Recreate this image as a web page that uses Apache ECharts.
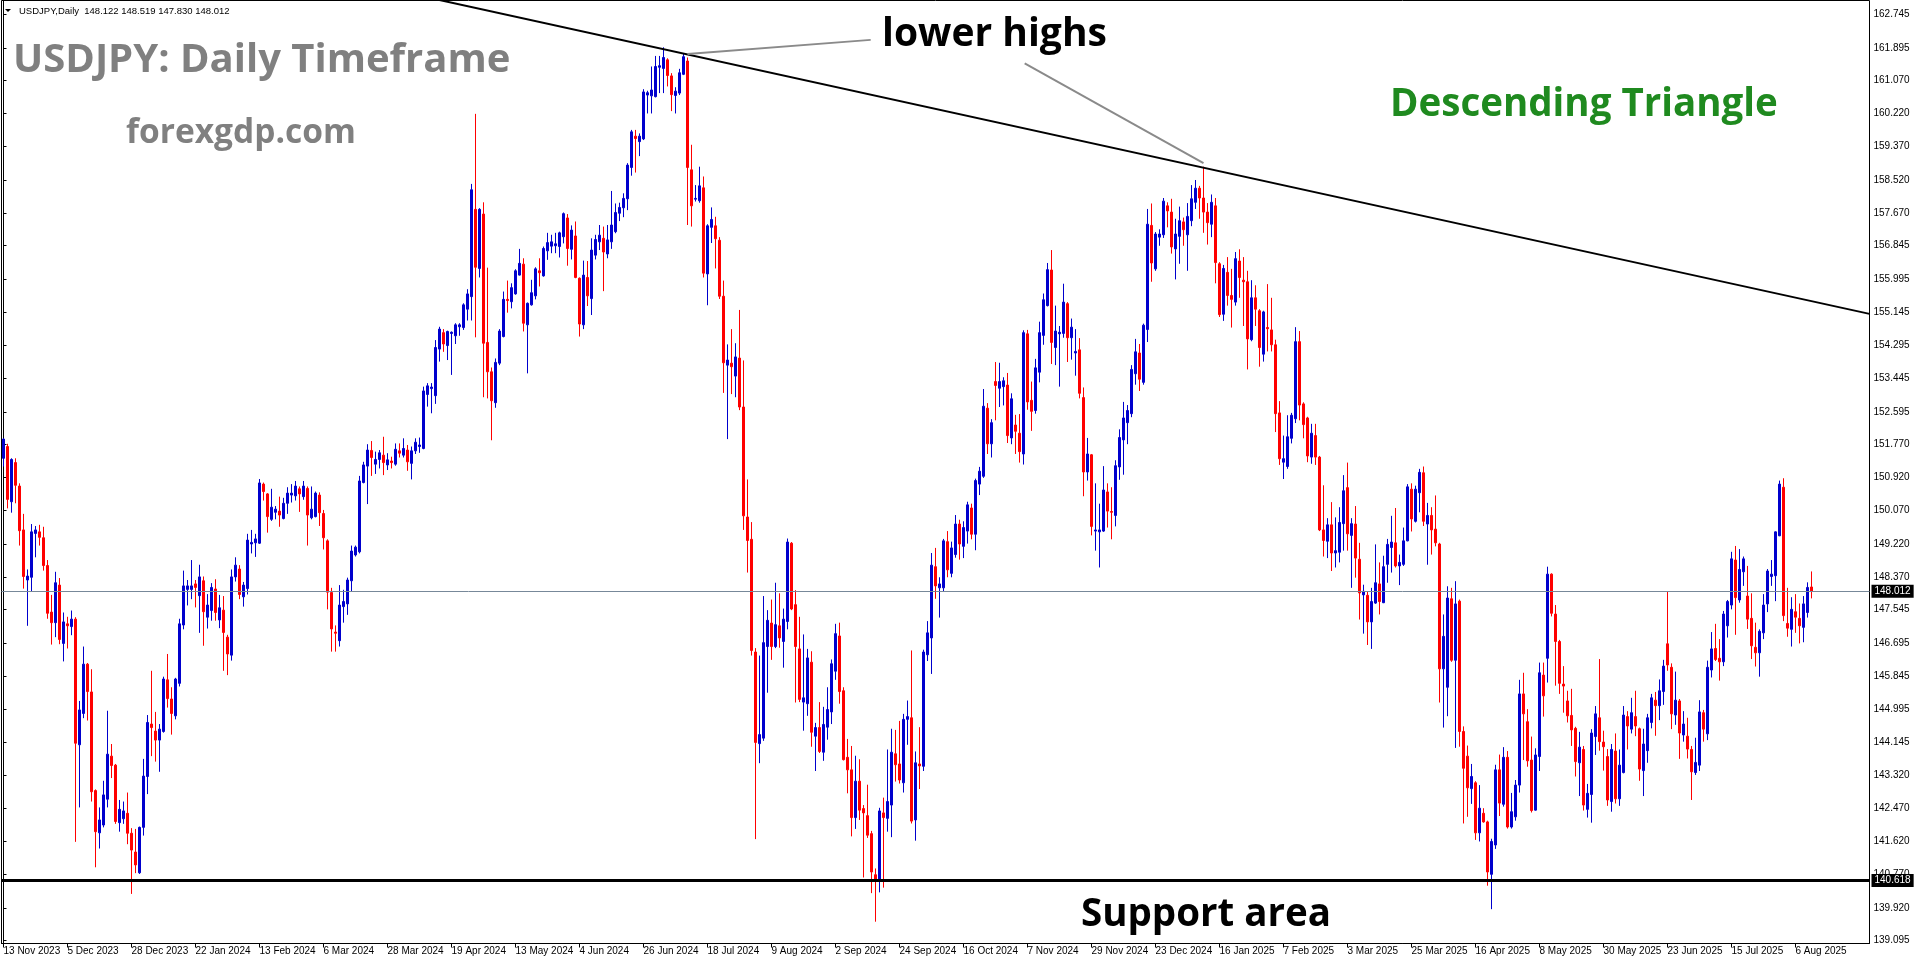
<!DOCTYPE html>
<html>
<head>
<meta charset="utf-8">
<title>USDJPY Daily</title>
<script src="https://cdn.jsdelivr.net/npm/echarts@6.0.0/dist/echarts.min.js"></script>
<style>
html,body{margin:0;padding:0;background:#ffffff;overflow:hidden;}
#chart{width:1916px;height:964px;}
</style>
</head>
<body>
<div id="chart"></div>
<script>
// ================= DATA =================
const symbolLabel = 'USDJPY,Daily';
const headerOHLC = [148.122, 148.519, 147.830, 148.012]; // O H L C of the last bar
const firstBarDate = '2023-11-13';
const supportLevel = 140.618;

// each candle: [open, close, low, high]
const candlesNov23toMar24 = [
[151.41,151.90,151.20,151.92],[151.71,150.36,150.13,151.78],[150.30,151.38,150.02,151.41],[151.30,150.72,150.26,151.41],
[150.70,149.56,149.18,150.77],[149.58,148.39,148.08,149.99],[148.30,148.40,147.13,148.57],[148.37,149.53,148.01,149.73],
[149.49,149.58,148.88,149.68],[149.53,149.39,149.18,149.71],[149.38,148.67,148.54,149.66],[148.67,147.45,147.31,148.81],
[147.48,147.21,146.65,147.92],[147.21,148.23,146.84,148.51],[148.17,146.78,146.66,148.35],[146.68,147.23,146.22,147.47],
[147.18,147.13,146.55,147.36],[147.11,147.30,146.89,147.52],[147.30,144.13,141.61,147.35],[144.09,144.98,142.49,145.21],
[144.89,146.15,144.77,146.60],[146.15,145.45,144.71,146.18],[145.44,142.89,142.64,146.02],[142.92,141.87,140.96,142.95],
[141.84,142.17,141.44,142.49],[142.04,142.81,141.98,143.17],[142.70,143.85,142.49,144.96],[143.80,143.56,143.24,144.11],
[143.57,142.13,142.07,143.60],[142.10,142.44,141.87,142.68],[142.20,142.40,142.07,142.64],[142.34,141.83,141.55,142.87],
[141.83,141.40,140.28,141.96],[141.35,141.02,140.81,141.94],[140.82,141.98,140.79,142.00],[141.98,143.29,141.77,143.73],
[143.28,144.66,142.83,144.85],[144.62,144.53,143.80,145.98],[144.44,144.21,143.66,144.93],[144.21,144.49,143.40,144.62],
[144.43,145.77,144.40,145.83],[145.75,145.27,145.04,146.41],[145.26,144.89,144.35,145.56],[144.83,145.77,144.74,145.80],
[145.66,147.18,145.58,147.31],[147.15,148.15,147.04,148.54],[148.06,148.15,147.65,148.30],[148.06,148.15,147.81,148.81],
[148.20,148.11,147.60,148.30],[147.90,148.38,146.95,148.69],[148.28,147.49,146.62,148.39],[147.35,147.66,147.06,147.94],
[147.52,148.11,147.26,148.22],[148.07,147.47,147.26,148.32],[147.28,147.59,147.07,147.92],[147.53,146.96,145.98,147.89],
[146.84,146.41,145.87,146.90],[146.38,148.38,146.24,148.57],[148.38,148.68,148.26,148.88],[148.58,147.93,147.81,148.68],
[147.87,148.17,147.62,148.25],[148.08,149.32,147.93,149.48],[149.22,149.26,148.98,149.58],[149.25,149.35,148.89,149.48],
[149.24,150.78,149.22,150.88],[150.75,150.56,150.33,150.79],[150.50,149.92,149.51,150.52],[149.85,150.16,149.81,150.63],
[150.03,150.11,149.85,150.19],[150.06,149.96,149.66,150.43],[149.87,150.26,149.85,150.40],[150.26,150.52,149.99,150.67],
[150.47,150.52,150.28,150.75],[150.45,150.70,150.33,150.83],[150.63,150.50,150.04,150.69],[150.43,150.70,150.35,150.83],
[150.64,149.96,149.18,150.69],[149.89,150.11,149.85,150.69],[149.92,150.52,149.90,150.56],[150.47,150.02,149.68,150.54],
[150.00,149.38,149.08,150.09],[149.30,147.99,147.55,149.34],[147.98,147.05,146.47,148.10],[146.97,146.94,146.47,147.14],
[146.75,147.66,146.60,148.17],[147.62,147.75,147.21,148.05],[147.69,148.30,147.41,148.36],[148.28,149.04,148.00,149.18],
[148.94,149.14,148.90,149.18],[149.02,150.83,148.98,150.96],[150.79,151.24,150.77,151.32],[151.21,151.62,150.24,151.77],
[151.61,151.43,150.96,151.85],[151.26,151.38,151.01,151.58],[151.38,151.55,151.15,151.62],[151.49,151.30,150.98,151.96],
[151.24,151.37,151.11,151.54],[151.34,151.30,151.15,151.45],[151.26,151.64,151.22,151.79]
];
const candlesApr24toJul24 = [
[151.60,151.54,151.43,151.79],[151.49,151.66,151.43,151.92],[151.62,151.32,151.09,151.75],[151.28,151.60,150.87,151.71],
[151.60,151.82,151.52,151.92],[151.71,151.75,151.55,151.94],[151.66,153.13,151.64,153.24],[153.04,153.26,152.73,153.33],
[153.19,153.23,152.56,153.33],[153.01,154.24,152.80,154.43],[154.20,154.71,153.88,154.77],[154.62,154.33,154.13,154.71],
[154.29,154.65,153.92,154.67],[154.60,154.63,153.54,154.65],[154.54,154.82,154.33,154.86],[154.77,154.82,154.54,154.86],
[154.75,155.33,154.69,155.37],[155.22,155.61,154.93,155.73],[155.54,158.27,154.93,158.42],[157.77,156.29,154.50,160.21],
[156.26,157.77,156.03,157.80],[157.65,154.35,152.97,157.95],[154.37,153.62,152.94,156.28],[153.62,152.88,151.87,153.73],
[152.83,153.86,152.70,153.96],[153.84,154.66,153.79,154.71],[154.52,155.47,154.50,155.67],[155.47,155.44,155.13,155.95],
[155.41,155.77,155.24,155.88],[155.61,156.20,155.59,156.24],[156.09,156.39,156.08,156.76],[156.37,154.86,154.65,156.52],
[154.82,155.37,153.58,155.39],[155.33,155.64,155.31,155.97],[155.56,156.25,155.47,156.29],[156.20,156.15,155.80,156.52],
[156.07,156.77,156.05,156.82],[156.71,156.92,156.48,157.17],[156.83,156.94,156.65,157.12],[156.84,156.89,156.65,157.17],
[156.82,157.17,156.54,157.20],[157.07,157.66,156.90,157.69],[157.55,156.77,156.33,157.65],[156.75,157.24,156.49,157.36],
[157.09,156.03,156.01,157.46],[156.01,154.84,154.52,156.03],[154.82,156.09,154.71,156.46],[156.03,155.56,155.30,156.45],
[155.49,156.73,155.07,157.03],[156.60,157.00,156.49,157.12],[156.94,157.11,156.73,157.37],[157.03,156.68,155.68,157.33],
[156.63,156.99,156.52,157.37],[156.94,157.37,156.76,158.24],[157.20,157.69,157.16,157.92],[157.67,157.82,157.47,157.94],
[157.81,158.05,157.57,158.18],[158.04,158.90,157.75,158.95],[158.84,159.75,158.63,159.80],[159.64,159.58,158.71,159.80],
[159.50,159.64,159.13,159.71],[159.57,160.77,159.54,160.84],[160.69,160.75,160.22,160.80],[160.67,160.82,160.22,161.42],
[160.65,161.42,160.63,161.69],[161.40,161.44,160.74,161.69],[161.37,161.65,160.74,161.91],[161.59,161.19,160.91,161.63],
[161.18,160.70,160.28,161.25],[160.68,160.79,160.22,160.89],[160.74,161.26,160.69,161.36],[161.22,161.67,161.20,161.74],
[161.56,158.84,157.37,161.65],[158.78,157.86,157.33,159.42],[158.03,158.05,157.97,158.39],[157.99,158.37,157.94,158.86],
[158.32,156.14,156.03,158.61]
];
const candlesJul24toOct24 = [
[156.12,157.35,155.32,157.39],[157.31,157.51,156.91,157.82],[157.35,157.02,156.26,157.58],[156.98,155.55,155.48,157.06],
[155.55,153.85,153.08,155.95],[153.79,153.92,151.90,154.32],[153.84,153.75,153.05,154.71],[153.51,154.00,152.97,154.35],
[153.97,152.72,152.64,155.20],[152.72,149.94,149.58,153.91],[149.91,149.31,148.49,150.87],[149.34,146.50,146.37,149.78],
[146.46,144.15,141.68,146.56],[144.12,144.35,143.62,146.37],[144.26,146.70,144.19,147.89],[146.60,147.27,145.42,147.53],
[147.20,146.60,146.26,147.80],[146.60,147.16,146.56,148.23],[147.13,146.82,146.57,147.96],[146.73,147.30,146.06,147.57],
[147.24,149.27,147.04,149.36],[149.24,147.56,147.53,149.27],[147.67,146.60,145.17,148.04],[146.54,145.25,145.18,147.36],
[145.18,145.29,144.45,146.91],[145.14,146.31,144.83,146.54],[146.20,144.41,144.04,146.48],[144.31,144.53,143.42,144.65],
[144.53,143.92,143.88,145.18],[143.90,144.61,143.68,145.06],[144.54,144.99,144.22,145.56],[144.93,146.16,144.62,146.27],
[145.97,146.93,145.75,147.18],[146.87,145.45,145.14,147.21],[145.47,143.71,143.69,145.56],[143.77,143.45,142.85,144.24],
[143.45,142.23,141.75,144.06],[142.23,143.16,141.94,143.81],[143.16,142.42,142.17,143.72],[142.46,142.35,140.70,142.55],
[142.28,141.78,141.71,143.07],[141.82,140.84,140.30,141.89],[140.77,140.64,139.57,140.93],[140.64,142.40,140.32,142.48],
[142.35,142.23,140.44,142.74],[142.21,142.64,141.87,143.97],[142.55,143.90,141.73,144.50],[143.86,143.58,143.15,144.47],
[143.60,143.19,143.10,144.70],[143.12,144.74,142.87,144.88],[144.74,144.81,144.09,145.22],[144.78,142.14,142.08,146.50],
[142.17,143.63,141.64,143.92],[143.60,143.55,142.96,144.54],[143.54,146.46,143.42,146.52],[146.39,146.95,146.23,147.25],
[146.82,148.68,145.90,148.99],[148.64,148.15,147.82,149.12],[148.10,148.20,147.34,148.37],[148.10,149.30,148.00,149.35],
[149.28,148.56,148.37,149.55],[148.47,149.12,148.37,149.28],[148.95,149.73,148.87,149.96],[149.73,149.22,148.82,149.84]
];
const candlesOct24toJan25 = [
[149.16,149.64,148.86,149.80],[149.55,150.22,149.23,150.30],[150.14,149.47,149.34,150.25],[149.47,150.84,149.06,150.89],
[150.75,151.08,150.47,151.19],[150.95,152.74,150.91,153.18],[152.69,151.78,151.52,152.82],[151.78,152.32,151.43,152.41],
[153.37,153.27,152.38,153.87],[153.20,153.37,152.72,153.85],[153.24,153.39,152.76,153.48],[153.28,151.99,151.80,153.59],
[151.93,152.93,151.77,153.07],[152.26,152.10,151.52,152.52],[152.05,151.58,151.30,152.54],[151.52,154.62,151.25,154.68],
[154.59,152.85,152.65,154.69],[152.89,152.61,152.11,153.37],[152.63,153.72,152.55,153.95],[153.61,154.62,153.35,154.90],
[154.55,155.46,154.31,155.62],[155.31,156.23,155.29,156.40],[156.22,154.37,153.82,156.73],[154.24,154.66,153.79,155.31],
[154.59,154.63,153.24,154.79],[154.60,155.40,154.49,155.87],[155.36,154.49,153.87,155.40],[154.49,154.76,153.93,154.98],
[154.10,154.14,153.52,154.71],[154.18,153.07,152.94,154.48],[152.96,151.06,150.44,153.22],[151.06,151.52,150.84,151.93],
[151.50,149.67,149.44,151.52],[149.55,149.58,149.05,150.77],[149.53,149.58,148.62,150.25],[149.55,150.60,149.53,151.21],
[150.55,150.06,149.64,150.77],[150.05,150.03,149.34,150.67],[149.95,151.22,149.67,151.36],[151.19,151.94,150.86,152.15],
[151.88,152.44,150.99,152.85],[152.32,152.63,151.77,152.77],[152.55,153.68,152.46,153.79],[153.57,154.13,153.29,154.46],
[154.10,153.43,153.13,154.33],[153.35,154.81,153.29,154.85],[154.70,157.39,154.38,157.78],[157.36,156.40,155.92,157.92],
[156.25,157.14,156.20,157.19],[157.06,157.14,156.84,157.26],[157.12,157.98,157.04,158.06],[157.86,157.73,157.31,157.95],
[157.70,156.81,156.64,158.04],[156.76,157.14,155.98,157.53],[157.08,157.48,156.38,157.84],[157.45,157.25,156.84,157.56],
[157.12,157.59,156.20,157.93],[157.48,158.04,157.34,158.39],[157.95,158.31,157.78,158.52],[158.31,158.06,157.53,158.37],
[158.06,157.70,157.17,158.86],[157.70,157.43,156.87,157.93],[157.39,157.95,157.06,158.15],[157.86,156.41,155.88,158.06]
];
const candlesJan25toApr25 = [
[156.38,155.08,155.02,156.42],[155.09,156.26,154.92,156.35],[156.16,155.57,155.31,156.55],[155.57,155.47,154.75,156.25],
[155.40,156.51,155.31,156.68],[156.45,156.03,155.51,156.75],[155.96,155.92,154.79,156.55],[155.92,154.46,153.68,156.20],
[154.44,155.51,154.40,155.96],[155.51,155.22,154.79,155.83],[155.18,154.24,153.75,155.22],[154.07,155.15,153.88,155.18],
[154.75,154.72,154.14,155.86],[154.69,154.31,154.14,155.51],[154.31,152.55,152.08,154.44],[152.57,151.40,151.24,152.87],
[151.31,151.40,150.88,151.99],[151.20,151.96,151.14,152.51],[151.92,152.51,151.79,152.57],[152.42,154.39,152.31,154.76],
[154.39,152.77,152.38,154.66],[152.80,152.27,151.92,152.84],[152.44,151.47,151.31,152.47],[151.44,152.05,151.27,152.29],
[151.99,151.44,151.24,152.29],[151.44,149.58,149.55,151.47],[149.58,149.31,148.90,150.72],[149.29,149.71,148.86,149.88],
[149.71,148.99,148.53,150.29],[148.99,149.05,148.62,149.90],[149.01,149.77,148.75,150.16],[149.74,150.58,149.05,150.98],
[150.66,149.48,149.05,151.30],[149.44,149.74,148.10,149.88],[149.73,148.86,148.36,150.19],[148.83,147.97,147.29,149.25],
[147.92,148.01,146.93,148.18],[147.91,147.23,146.64,148.01],[147.23,147.75,146.54,148.10],[147.71,148.23,147.69,149.21],
[148.20,147.75,147.42,148.75],[147.72,148.64,147.71,148.92],[148.70,149.21,148.23,149.35],[149.13,149.27,148.49,149.94],
[149.25,148.66,148.62,150.14],[148.66,148.75,148.17,148.95],[148.70,149.30,148.66,149.64],[149.30,150.68,149.29,150.75],
[150.62,149.86,149.54,150.77],[149.80,150.62,149.77,150.71],[150.53,151.05,150.03,151.14],[151.04,149.80,149.68,151.20],
[149.73,149.95,148.69,150.27],[149.95,149.58,148.95,150.16],[149.60,149.25,149.16,150.46],[149.22,146.03,145.17,149.25],
[146.03,146.86,144.53,147.42],[145.56,147.84,144.82,148.14],[147.82,146.25,146.21,148.10],[146.25,147.69,144.01,148.27],
[147.76,144.43,144.04,147.80],[144.43,143.49,142.08,144.56],[143.80,142.99,142.25,144.07],[142.97,143.28,142.58,143.60],
[143.12,141.84,141.66,143.16],[141.84,142.47,141.62,143.06],[142.34,142.12,142.10,142.47],[142.12,140.84,140.49,142.15],
[140.78,141.62,139.89,141.69],[141.53,143.45,141.43,143.58],[143.45,142.60,142.27,143.84],[142.57,143.77,142.51,144.03],
[143.77,141.99,141.95,143.93],[141.99,142.38,141.95,142.86]
];
const candlesApr25toAug25 = [
[142.25,143.06,142.15,143.19],[143.06,145.39,142.87,145.75],[145.39,144.88,143.70,145.93],[144.68,143.68,143.53,145.00],
[143.70,142.41,142.36,144.30],[142.42,143.83,142.41,144.00],[143.79,145.93,143.42,146.19],[145.87,145.34,144.81,146.19],
[146.30,148.45,145.68,148.64],[148.45,147.45,147.37,148.47],[147.43,146.73,145.60,147.66],[146.73,145.66,145.39,146.77],
[145.64,145.59,144.91,146.10],[145.21,144.83,144.66,145.47],[144.84,144.47,144.06,145.52],[144.51,143.66,143.28,144.55],
[143.63,144.03,142.78,144.42],[143.97,142.55,142.41,144.06],[142.44,142.85,142.23,143.09],[142.82,144.39,142.10,144.49],
[144.30,144.88,143.83,145.08],[144.78,144.17,143.94,146.28],[144.16,144.04,143.43,144.45],[143.79,142.68,142.53,143.98],
[142.64,143.97,142.38,144.11],[143.93,142.71,142.59,144.38],[142.71,143.57,142.53,143.97],[143.38,144.85,143.36,145.08],
[144.81,144.57,143.97,144.95],[144.49,144.91,144.38,145.29],[144.81,144.57,144.31,145.47],[144.50,143.47,143.17,144.53],
[143.43,144.11,142.78,144.50],[143.94,144.78,143.63,144.88],[144.66,145.29,144.51,145.39],[145.23,145.09,144.32,145.44],
[145.09,145.47,144.72,145.76],[145.45,146.10,145.11,146.26],[146.67,146.13,145.98,148.01],[146.07,144.88,144.49,146.17],
[144.85,145.23,144.60,145.96],[145.21,144.39,143.73,145.26],[144.34,144.62,144.17,144.95],[144.31,143.98,143.74,144.78],
[143.97,143.40,142.68,144.06],[143.38,143.64,143.32,144.27],[143.57,144.93,143.42,145.23],[144.91,144.49,144.17,144.98],
[144.37,146.07,144.21,146.24],[146.00,146.54,145.81,146.97],[146.55,146.27,146.23,147.18],[146.30,146.21,145.73,146.79],
[146.21,147.43,146.10,147.51],[147.13,147.75,146.83,147.79],[147.66,148.84,147.55,149.02],[148.81,147.85,146.90,149.17],
[147.79,148.57,147.72,149.09],[148.51,148.84,148.15,148.90],[147.89,147.30,147.05,148.66],[147.32,146.62,146.28,147.96],
[146.58,146.44,146.09,147.21],[146.44,146.99,145.83,147.04],[146.95,147.66,146.79,147.94],[147.69,148.53,147.48,148.58],
[148.39,148.45,148.15,148.81],[148.41,149.53,147.76,149.54],[149.43,150.75,149.42,150.84],[150.67,147.39,147.25,150.90],
[147.19,147.07,146.85,148.10],[147.04,147.55,146.60,147.86],[147.49,147.35,146.95,147.94],[147.32,147.13,146.68,147.70],
[147.09,147.69,146.71,147.89],[147.47,148.11,147.34,148.24]
];

// axis tick labels as printed in the picture
const xTickLabels = ['13 Nov 2023','5 Dec 2023','28 Dec 2023','22 Jan 2024','13 Feb 2024','6 Mar 2024','28 Mar 2024',
  '19 Apr 2024','13 May 2024','4 Jun 2024','26 Jun 2024','18 Jul 2024','9 Aug 2024','2 Sep 2024','24 Sep 2024',
  '16 Oct 2024','7 Nov 2024','29 Nov 2024','23 Dec 2024','16 Jan 2025','7 Feb 2025','3 Mar 2025','25 Mar 2025',
  '16 Apr 2025','8 May 2025','30 May 2025','23 Jun 2025','15 Jul 2025','6 Aug 2025'];
const xTickStep = 16; // bars between dated ticks
const yTickValues = [162.745,161.895,161.070,160.220,159.370,158.520,157.670,156.845,155.995,155.145,154.295,
  153.445,152.595,151.770,150.920,150.070,149.220,148.370,147.545,146.695,145.845,144.995,144.145,143.320,
  142.470,141.620,140.770,139.920,139.095];

// annotation anchors in data space: [bar index, price]
const trendLine = [[100, 163.32], [466.5, 155.10]];
const lowerHighsPointerA = [[171, 161.74], [216.8, 162.10]];
const lowerHighsPointerB = [[255.3, 161.50], [300, 158.95]];

// ================= BUILD =================
const lastBar = [headerOHLC[0], headerOHLC[3], headerOHLC[2], headerOHLC[1]];
const candles = [].concat(candlesNov23toMar24, candlesApr24toJul24, candlesJul24toOct24,
  candlesOct24toJan25, candlesJan25toApr25, candlesApr25toAug25, [lastBar]);
const lastClose = headerOHLC[3];

const SLOTS = 467;        // bars + empty chart shift to the right
const MONTHS = ['Jan','Feb','Mar','Apr','May','Jun','Jul','Aug','Sep','Oct','Nov','Dec'];
function tradingDays(startISO, count) {
  const out = [];
  const d = new Date(startISO + 'T00:00:00Z');
  while (out.length < count) {
    const wd = d.getUTCDay(), m = d.getUTCMonth(), day = d.getUTCDate();
    const holiday = (m === 11 && day === 25) || (m === 0 && day === 1);
    if (wd !== 0 && wd !== 6 && !holiday) out.push(day + ' ' + MONTHS[m] + ' ' + d.getUTCFullYear());
    d.setUTCDate(day + 1);
  }
  return out;
}
const categories = tradingDays(firstBarDate, SLOTS);
const lastTickIndex = (xTickLabels.length - 1) * xTickStep;
const showTick = (idx) => idx % xTickStep === 0 && idx <= lastTickIndex;

const GRID = { left: 1.5, top: 0.5, width: 1868, height: 943 };
const Y_MAX = 163.106, Y_MIN = 139.013;

const BULL = '#0000CD', BEAR = '#FF0000';
const AX_FONT = '"Liberation Sans", Arial, sans-serif';
const TXT_FONT = '"Open Sans", "Noto Sans", sans-serif';

const boxLabel = (txt) => ({
  show: true, position: 'end', distance: 2, formatter: txt,
  color: '#ffffff', backgroundColor: '#000000', padding: [2, 3, 1, 3],
  fontSize: 10, fontFamily: AX_FONT
});

const chart = echarts.init(document.getElementById('chart'), null, { renderer: 'canvas' });
chart.setOption({
  animation: false,
  backgroundColor: '#ffffff',
  grid: Object.assign({ show: true, borderColor: '#000000', borderWidth: 1, containLabel: false, outerBoundsMode: 'none' }, GRID),
  xAxis: [{
    type: 'category', data: categories, boundaryGap: true, gridIndex: 0,
    axisLine: { show: true, lineStyle: { color: '#000000', width: 1 } },
    axisTick: { show: true, interval: showTick, alignWithLabel: true, length: 4, lineStyle: { color: '#000000' } },
    axisLabel: {
      show: true, interval: showTick, align: 'left', margin: 3, color: '#000000',
      fontSize: 10, fontFamily: AX_FONT,
      formatter: (v, idx) => xTickLabels[Math.round(idx / xTickStep)] || ''
    },
    splitLine: { show: false }
  }, {
    type: 'value', gridIndex: 0, min: -0.5, max: SLOTS - 0.5, show: false
  }],
  yAxis: [{
    type: 'value', position: 'right', min: Y_MIN, max: Y_MAX, gridIndex: 0,
    axisLine: { show: true, lineStyle: { color: '#000000', width: 1 } },
    axisTick: { show: true, customValues: yTickValues, length: 3, lineStyle: { color: '#000000' } },
    axisLabel: { show: true, customValues: yTickValues, margin: 4, color: '#000000', fontSize: 10, fontFamily: AX_FONT,
      formatter: (v) => Number(v).toFixed(3) },
    splitLine: { show: false }
  }],
  series: [{
    type: 'candlestick', name: 'USDJPY', data: candles, xAxisIndex: 0, yAxisIndex: 0,
    barWidth: 2, clip: true,
    itemStyle: { color: BULL, color0: BEAR, borderColor: BULL, borderColor0: BEAR, borderColorDoji: BULL, borderWidth: 1 },
    emphasis: { disabled: true },
    markLine: {
      silent: true, symbol: ['none', 'none'], animation: false,
      data: [
        { yAxis: lastClose, lineStyle: { color: '#778899', width: 1, type: 'solid' }, label: boxLabel(lastClose.toFixed(3)) },
        { yAxis: supportLevel, lineStyle: { color: '#000000', width: 3, type: 'solid' }, label: boxLabel(supportLevel.toFixed(3)) }
      ]
    }
  }, {
    type: 'line', xAxisIndex: 1, yAxisIndex: 0, data: trendLine, symbol: 'none', clip: true, silent: true,
    lineStyle: { color: '#000000', width: 2 }
  }, {
    type: 'line', xAxisIndex: 1, yAxisIndex: 0, data: lowerHighsPointerA, symbol: 'none', clip: true, silent: true,
    lineStyle: { color: '#8a8a8a', width: 2 }
  }, {
    type: 'line', xAxisIndex: 1, yAxisIndex: 0, data: lowerHighsPointerB, symbol: 'none', clip: true, silent: true,
    lineStyle: { color: '#8a8a8a', width: 2 }
  }],
  graphic: [
    { type: 'polygon', shape: { points: [[5, 9], [11, 9], [8, 12]] }, style: { fill: '#000000' }, silent: true },
    { type: 'text', x: 19, y: 11, silent: true,
      style: { text: symbolLabel + '  ' + headerOHLC.map(v => v.toFixed(3)).join(' '), fill: '#000000',
        font: '9.5px ' + AX_FONT, align: 'left', verticalAlign: 'middle' } },
    { type: 'text', x: 13, y: 61, silent: true,
      style: { text: 'USDJPY: Daily Timeframe', fill: '#808080', font: 'bold 40px ' + TXT_FONT, align: 'left', verticalAlign: 'middle' } },
    { type: 'text', x: 126, y: 133, silent: true,
      style: { text: 'forexgdp.com', fill: '#808080', font: 'bold 33.5px ' + TXT_FONT, align: 'left', verticalAlign: 'middle' } },
    { type: 'text', x: 882, y: 35, silent: true,
      style: { text: 'lower highs', fill: '#000000', font: 'bold 39px ' + TXT_FONT, align: 'left', verticalAlign: 'middle' } },
    { type: 'text', x: 1390, y: 105, silent: true,
      style: { text: 'Descending Triangle', fill: '#1f8a1f', font: 'bold 38.5px ' + TXT_FONT, align: 'left', verticalAlign: 'middle' } },
    { type: 'text', x: 1081, y: 915, silent: true,
      style: { text: 'Support area', fill: '#000000', font: 'bold 38.5px ' + TXT_FONT, align: 'left', verticalAlign: 'middle' } }
  ]
});
</script>
</body>
</html>
